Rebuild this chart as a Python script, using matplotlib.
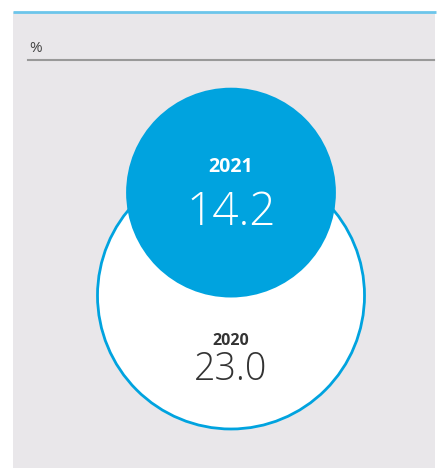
import numpy as np
import matplotlib.pyplot as plt
from matplotlib.patches import Circle, Rectangle

# data
years = ['2020', '2021']
values = [23.0, 14.2]
unit = '%'

BLUE = '#00a3df'
LIGHT_BLUE = '#6cc5ea'
BG = '#e9e7ea'

W, H = 437, 468
fig = plt.figure(figsize=(W / 100, H / 100), dpi=100)
ax = fig.add_axes([0, 0, 1, 1])
ax.set_xlim(0, W)
ax.set_ylim(H, 0)
ax.set_aspect('equal')
ax.axis('off')

# panel
ax.add_patch(Rectangle((13, 12), W - 15, H - 12, facecolor=BG, edgecolor='none', zorder=0))
ax.plot([13, W - 1], [12, 12], color=LIGHT_BLUE, lw=2, solid_capstyle='butt', zorder=1)
ax.text(29, 48, unit, fontsize=11, color='#444444', va='center', ha='left', family='Open Sans')
ax.plot([28, 434], [60, 60], color='#999999', lw=1.5, zorder=1)

# circles sized by area, small circle sits on top of large one
r_scale = 133.5 / np.sqrt(max(values))
radii = [r_scale * np.sqrt(v) for v in values]
cx = 231
big_cy = 429 - radii[0]
small_cy = big_cy - radii[1] + 2

ax.add_patch(Circle((cx, big_cy), radii[0], facecolor='white', edgecolor=BLUE, lw=2, zorder=2))
ax.add_patch(Circle((cx, small_cy), radii[1], facecolor=BLUE, edgecolor='none', zorder=3))

# labels
ax.text(cx, 167, years[1], fontsize=14, fontweight='bold', color='white',
        ha='center', va='center', family='Open Sans', zorder=4)
ax.text(cx, 213, f'{values[1]:.1f}', fontsize=33, fontweight='light', color='white',
        ha='center', va='center', family='Open Sans', zorder=4)
ax.text(cx, 341, years[0], fontsize=11.5, fontweight='bold', color='#333333',
        ha='center', va='center', family='Open Sans', zorder=4)
ax.text(cx, 370, f'{values[0]:.1f}', fontsize=27, fontweight='light', color='#333333',
        ha='center', va='center', family='Open Sans', zorder=4)

fig.savefig('out.png', dpi=100, facecolor='white')
